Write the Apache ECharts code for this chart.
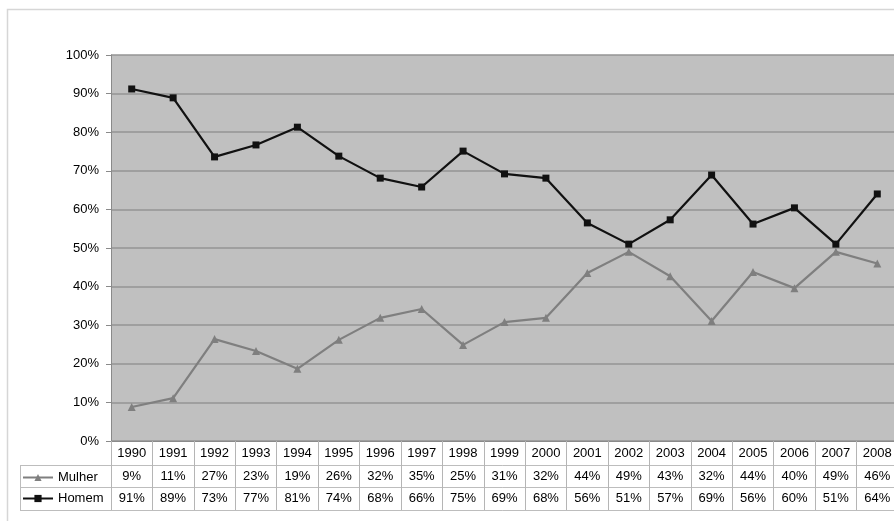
<!DOCTYPE html>
<html>
<head>
<meta charset="utf-8">
<script src="https://cdn.jsdelivr.net/npm/echarts@6/dist/echarts.min.js"></script>
<style>
html,body{margin:0;padding:0;background:#fff;}
#chart{width:894px;height:521px;}
</style>
</head>
<body>
<div id="chart"></div>
<script>
var years = ['1990','1991','1992','1993','1994','1995','1996','1997','1998','1999','2000','2001','2002','2003','2004','2005','2006','2007','2008'];
var mulher = [8.8, 11.1, 26.4, 23.3, 18.7, 26.2, 31.9, 34.2, 24.9, 30.8, 31.9, 43.5, 49.0, 42.7, 31.1, 43.8, 39.6, 49.0, 46.0];
var homem = [91.2, 88.9, 73.6, 76.7, 81.3, 73.8, 68.1, 65.8, 75.1, 69.2, 68.1, 56.5, 51.0, 57.3, 68.9, 56.2, 60.4, 51.0, 64.0];
var mulherLabels = ['9%','11%','27%','23%','19%','26%','32%','35%','25%','31%','32%','44%','49%','43%','32%','44%','40%','49%','46%'];
var homemLabels = ['91%','89%','73%','77%','81%','74%','68%','66%','75%','69%','68%','56%','51%','57%','69%','56%','60%','51%','64%'];
var yTicks = {min: 0, max: 100, interval: 10};

var FONT = 'Liberation Sans, Arial, sans-serif';
var FS = 13;
var chart = echarts.init(document.getElementById('chart'));

function tableAxis(data, offset, showLabel) {
  return {
    type: 'category', data: data, position: 'bottom', offset: offset, gridIndex: 0,
    axisLine: {show: true, lineStyle: {color: '#bdbdbd', width: 1}},
    axisTick: {show: false},
    axisLabel: {show: showLabel, margin: 5, color: '#000', fontSize: FS, fontFamily: FONT, interval: 0},
    splitLine: {show: false}
  };
}

var option = {
  backgroundColor: '#fff',
  animation: false,
  textStyle: {fontFamily: FONT},
  grid: {left: 111, top: 55, width: 787, height: 386, show: true, backgroundColor: '#c0c0c0', borderWidth: 0, outerBoundsMode: 'none', containLabel: false},
  legend: {
    orient: 'vertical', left: 22, top: 471, padding: 0, itemGap: 8, itemWidth: 30, itemHeight: 9,
    textStyle: {fontSize: FS, color: '#000', fontFamily: FONT},
    data: ['Mulher', 'Homem']
  },
  xAxis: [
    {
      type: 'category', data: years, boundaryGap: true,
      axisLine: {show: true, lineStyle: {color: '#8a8a8a', width: 1}},
      axisTick: {show: true, length: 69, lineStyle: {color: '#b5b5b5', width: 1}},
      axisLabel: {margin: 6, color: '#000', fontSize: FS, fontFamily: FONT, interval: 0},
      splitLine: {show: false}
    },
    tableAxis(mulherLabels, 24, true),
    tableAxis(homemLabels, 46, true),
    tableAxis(years, 69, false)
  ],
  yAxis: {
    type: 'value', min: yTicks.min, max: yTicks.max, interval: yTicks.interval,
    axisLine: {show: true, lineStyle: {color: '#8a8a8a', width: 1}},
    axisTick: {show: true, length: 5, lineStyle: {color: '#8a8a8a'}},
    axisLabel: {formatter: '{value}%', color: '#000', fontSize: FS, fontFamily: FONT, margin: 12},
    splitLine: {show: true, lineStyle: {color: '#959595', width: 1.5}}
  },
  series: [
    {
      name: 'Mulher', type: 'line', data: mulher, xAxisIndex: 0,
      symbol: 'triangle', symbolSize: 8,
      lineStyle: {color: '#7f7f7f', width: 2.2},
      itemStyle: {color: '#7f7f7f'}
    },
    {
      name: 'Homem', type: 'line', data: homem, xAxisIndex: 0,
      symbol: 'rect', symbolSize: 7,
      lineStyle: {color: '#111', width: 2.2},
      itemStyle: {color: '#111'}
    }
  ],
  graphic: [
    {type: 'rect', shape: {x: 7.5, y: 9.5, width: 900, height: 520}, style: {fill: 'none', stroke: '#d6d6d6', lineWidth: 1.5}, z: -10},
    {type: 'line', shape: {x1: 20, y1: 465.5, x2: 111, y2: 465.5}, style: {stroke: '#bdbdbd', lineWidth: 1}},
    {type: 'line', shape: {x1: 20, y1: 487.5, x2: 111, y2: 487.5}, style: {stroke: '#bdbdbd', lineWidth: 1}},
    {type: 'line', shape: {x1: 20, y1: 510.5, x2: 111, y2: 510.5}, style: {stroke: '#bdbdbd', lineWidth: 1}},
    {type: 'line', shape: {x1: 20.5, y1: 465, x2: 20.5, y2: 511}, style: {stroke: '#bdbdbd', lineWidth: 1}}
  ]
};
chart.setOption(option);
</script>
</body>
</html>
